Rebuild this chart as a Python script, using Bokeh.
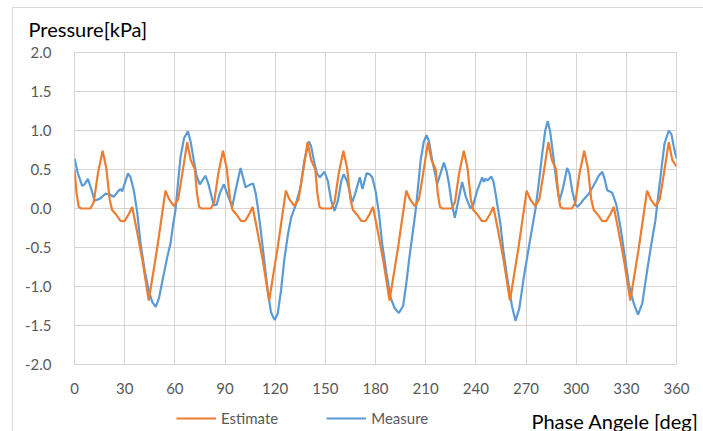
from bokeh.plotting import figure
from bokeh.layouts import column
from bokeh.models import (Range1d, FixedTicker, Legend, LegendItem, Label,
                          NumeralTickFormatter, ColumnDataSource)
from bokeh.embed import file_html
from bokeh.resources import INLINE

# ---------------- data ----------------
x_ticks = [0, 30, 60, 90, 120, 150, 180, 210, 240, 270, 300, 330, 360]
y_ticks = [-2.0, -1.5, -1.0, -0.5, 0.0, 0.5, 1.0, 1.5, 2.0]

est_deg = [0, 1.2, 2.5, 4, 9.5, 11.5, 14, 16.8, 19, 21, 22.5, 25, 27.5, 30, 32.5, 34.5, 37, 40.5, 44.4, 49.5, 54.4, 56.5, 59.5, 62, 64.5, 67.4, 69.5,
           72, 73.2, 74.5, 76, 81.5, 83.5, 86, 88.8, 91, 93, 94.5, 97, 99.5, 102, 104.5, 106.5, 109, 112.5, 116.4, 121.5, 126.4, 128.5, 131.5, 134, 136.5, 139.4, 141.5,
           144, 145.2, 146.5, 148, 153.5, 155.5, 158, 160.8, 163, 165, 166.5, 169, 171.5, 174, 176.5, 178.5, 181, 184.5, 188.4, 193.5, 198.4, 200.5, 203.5, 206, 208.5, 211.4, 213.5,
           216, 217.2, 218.5, 220, 225.5, 227.5, 230, 232.8, 235, 237, 238.5, 241, 243.5, 246, 248.5, 250.5, 253, 256.5, 260.4, 265.5, 270.4, 272.5, 275.5, 278, 280.5, 283.4, 285.5,
           288, 289.2, 290.5, 292, 297.5, 299.5, 302, 304.8, 307, 309, 310.5, 313, 315.5, 318, 320.5, 322.5, 325, 328.5, 332.4, 337.5, 342.4, 344.5, 347.5, 350, 352.5, 355.4, 357.5,
           360]
est_val = [0.50, 0.20, 0.02, 0.00, 0.00, 0.08, 0.45, 0.74, 0.52, 0.12, -0.02, -0.08, -0.16, -0.16, -0.07, 0.02, -0.25, -0.65, -1.18, -0.50, 0.23, 0.12, 0.03, 0.12, 0.45, 0.85, 0.62,
           0.50, 0.20, 0.02, 0.00, 0.00, 0.08, 0.45, 0.74, 0.52, 0.12, -0.02, -0.08, -0.16, -0.16, -0.07, 0.02, -0.25, -0.65, -1.18, -0.50, 0.23, 0.12, 0.03, 0.12, 0.45, 0.85, 0.62,
           0.50, 0.20, 0.02, 0.00, 0.00, 0.08, 0.45, 0.74, 0.52, 0.12, -0.02, -0.08, -0.16, -0.16, -0.07, 0.02, -0.25, -0.65, -1.18, -0.50, 0.23, 0.12, 0.03, 0.12, 0.45, 0.85, 0.62,
           0.50, 0.20, 0.02, 0.00, 0.00, 0.08, 0.45, 0.74, 0.52, 0.12, -0.02, -0.08, -0.16, -0.16, -0.07, 0.02, -0.25, -0.65, -1.18, -0.50, 0.23, 0.12, 0.03, 0.12, 0.45, 0.85, 0.62,
           0.50, 0.20, 0.02, 0.00, 0.00, 0.08, 0.45, 0.74, 0.52, 0.12, -0.02, -0.08, -0.16, -0.16, -0.07, 0.02, -0.25, -0.65, -1.18, -0.50, 0.23, 0.12, 0.03, 0.12, 0.45, 0.85, 0.62,
           0.54]

meas_deg = [0, 2, 4.6, 6, 8, 10, 12, 15.5, 18.5, 21, 23.5, 26, 27.5, 28.5, 30, 32, 33.5, 35.5, 37.5, 39.5,
            42, 44.4, 46.5, 48.6, 50.5, 53.4, 55.5, 57.4, 59, 60.4, 62, 63.4, 65.5, 67.8, 69.5, 71.3, 73, 74.9, 76.5, 78.3,
            80, 83.3, 85, 87, 89.3, 91.5, 94.3, 96.5, 99.3, 101, 102.3, 104.5, 106.8, 108.3, 109.6, 111.5, 113.2, 115.5, 117.5, 119.7,
            121.5, 123.5, 125.5, 127.5, 129.5, 132.2, 135.1, 137.5, 140.1, 141.5, 143.1, 145, 146.7, 149.5, 151.5, 153.5, 155.5, 157.5, 159.5, 161,
            163, 166.1, 168, 170.6, 172.2, 174.6, 176.5, 178, 180, 182, 184, 186.5, 189, 191.5, 194, 196.5, 198.5, 200, 202, 204,
            206, 207, 208.8, 210.5, 212, 213.9, 216.9, 218.9, 220.9, 222.5, 223.9, 225.5, 227.4, 229.5, 231.8, 234, 236.8, 238.5, 240.8, 243.8,
            244.8, 245.8, 247, 249.2, 250.5, 251.8, 254.7, 256.5, 258.7, 261.7, 263.7, 266, 268.7, 272.7, 275.7, 277.5, 279.7, 281.5, 283, 284.5,
            286.6, 288.5, 290, 292, 294.6, 296, 297.6, 299.6, 300.6, 302.5, 304.6, 307.6, 309.5, 311.6, 313.5, 315.6, 317, 318.6, 320, 321.6,
            324, 326.5, 329, 331.5, 334.5, 337, 339.5, 342.5, 345, 347.4, 349, 350.4, 352.8, 355.4, 357, 358.4, 360]
meas_val = [0.64, 0.45, 0.29, 0.31, 0.38, 0.25, 0.10, 0.13, 0.19, 0.18, 0.15, 0.22, 0.25, 0.22, 0.32, 0.45, 0.40, 0.23, -0.05, -0.45,
            -0.80, -1.05, -1.20, -1.26, -1.15, -0.84, -0.62, -0.45, -0.20, -0.02, 0.35, 0.66, 0.90, 0.99, 0.85, 0.62, 0.42, 0.31, 0.36, 0.42,
            0.32, 0.04, 0.05, 0.20, 0.31, 0.18, 0.02, 0.25, 0.52, 0.38, 0.27, 0.30, 0.32, 0.20, 0.02, -0.30, -0.62, -1.05, -1.33, -1.43,
            -1.35, -1.05, -0.65, -0.35, -0.12, 0.04, 0.27, 0.62, 0.86, 0.80, 0.62, 0.45, 0.40, 0.47, 0.35, 0.10, -0.03, 0.10, 0.35, 0.44,
            0.35, 0.08, 0.20, 0.40, 0.25, 0.45, 0.44, 0.40, 0.23, -0.05, -0.45, -0.82, -1.14, -1.28, -1.34, -1.25, -0.95, -0.67, -0.35, -0.03,
            0.40, 0.62, 0.85, 0.94, 0.86, 0.62, 0.32, 0.45, 0.59, 0.48, 0.32, 0.08, -0.12, 0.10, 0.34, 0.15, 0.00, 0.05, 0.23, 0.40,
            0.34, 0.38, 0.36, 0.41, 0.35, 0.19, -0.20, -0.55, -0.88, -1.26, -1.44, -1.28, -0.88, -0.37, 0.00, 0.30, 0.70, 1.00, 1.12, 0.98,
            0.62, 0.30, 0.10, 0.25, 0.52, 0.45, 0.23, 0.05, 0.02, 0.06, 0.12, 0.19, 0.26, 0.34, 0.42, 0.47, 0.38, 0.23, 0.22, 0.20,
            0.05, -0.24, -0.60, -0.97, -1.22, -1.36, -1.22, -0.79, -0.45, -0.15, 0.15, 0.40, 0.83, 1.00, 0.95, 0.79, 0.64]

series_names = ["Estimate", "Measure"]
y_title = "Pressure[kPa]"
x_title = "Phase Angele [deg]"

# ---------------- style ----------------
FONT = "Lato"
GRID = "#d9d3d0"
TICK_TXT = "#595959"
ORANGE = "#ED7D31"
BLUE = "#5B9BD5"
EDGE = "#d9d9d9"

# main chart
p = figure(width=703, height=400, output_backend="svg", toolbar_location=None,
           x_range=Range1d(0, 360), y_range=Range1d(-2, 2),
           min_border_left=74, min_border_right=27, min_border_top=52, min_border_bottom=36,
           background_fill_color="white", border_fill_alpha=0)

p.outline_line_color = GRID
p.xaxis.ticker = FixedTicker(ticks=x_ticks)
p.yaxis.ticker = FixedTicker(ticks=y_ticks)
p.xgrid.ticker = FixedTicker(ticks=x_ticks)
p.ygrid.ticker = FixedTicker(ticks=y_ticks)
p.yaxis.formatter = NumeralTickFormatter(format="0.0")
for ax in (p.xaxis[0], p.yaxis[0]):
    ax.axis_line_color = None
    ax.major_tick_line_color = None
    ax.minor_tick_line_color = None
    ax.major_label_text_font = FONT
    ax.major_label_text_font_size = "15px"
    ax.major_label_text_color = TICK_TXT
p.yaxis.major_label_standoff = 17
p.xaxis.major_label_standoff = 12
p.xgrid.grid_line_color = GRID
p.ygrid.grid_line_color = GRID

p.title.text = y_title
p.title.align = "left"
p.title.offset = -46
p.title.text_font = FONT
p.title.text_font_size = "20px"
p.title.text_font_style = "normal"
p.title.text_color = "black"
p.title.standoff = 23

src_e = ColumnDataSource(dict(x=est_deg, y=est_val))
src_m = ColumnDataSource(dict(x=meas_deg, y=meas_val))
p.line("x", "y", source=src_m, line_color=BLUE, line_width=2.2)
p.line("x", "y", source=src_e, line_color=ORANGE, line_width=2.2)

# footer strip: legend + x-axis title, in plain pixel coordinates of the strip
f = figure(width=703, height=31, output_backend="svg", toolbar_location=None,
           x_range=Range1d(0, 703), y_range=Range1d(0, 31),
           x_axis_type=None, y_axis_type=None, min_border=0,
           background_fill_alpha=0, border_fill_alpha=0)
if "frame_align" in f.properties():
    f.frame_align = False
    p.frame_align = False
f.grid.visible = False
f.outline_line_color = None
le = f.line("x", "y", source=src_e, line_color=ORANGE, line_width=2.2, visible=False)
lm = f.line("x", "y", source=src_m, line_color=BLUE, line_width=2.2, visible=False)
legend = Legend(items=[LegendItem(label=series_names[0], renderers=[le]),
                       LegendItem(label=series_names[1], renderers=[lm])],
                location=(176, 3), orientation="horizontal",
                glyph_width=40, glyph_height=20, label_standoff=5, spacing=48,
                padding=0, margin=0, border_line_alpha=0, background_fill_alpha=0,
                inactive_fill_alpha=0,
                label_text_font=FONT, label_text_font_size="15px", label_text_color=TICK_TXT)
f.add_layout(legend)
f.add_layout(Label(x=531, y=11, text=x_title, text_font=FONT, text_font_size="20px",
                   text_color="black", text_baseline="middle", text_align="left"))

# faint chart-area border (left and top edges), drawn as page background
page = column(p, f, spacing=0, styles={
    "background-color": "white",
    "background-image": f"linear-gradient({EDGE},{EDGE}), linear-gradient({EDGE},{EDGE})",
    "background-size": "1px 424px, 691px 1px",
    "background-position": "12px 7px, 12px 7px",
    "background-repeat": "no-repeat",
})

open("out.html", "w").write(file_html(page, INLINE))
